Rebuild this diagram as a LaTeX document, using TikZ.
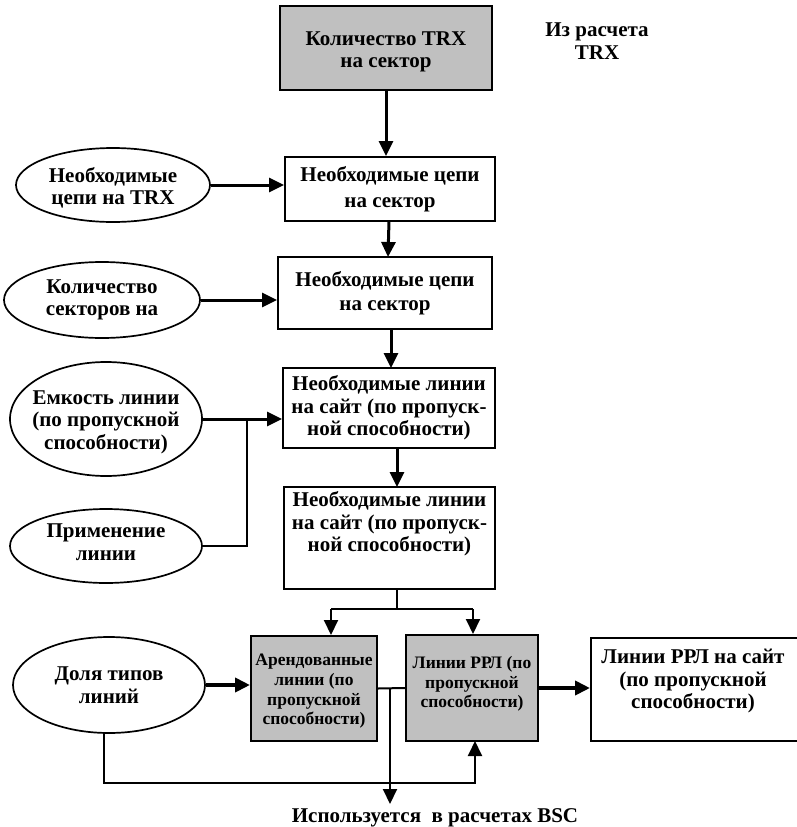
\documentclass[tikz,border=0pt]{standalone}
\usepackage{fontspec}
\setmainfont{Liberation Serif}
\usetikzlibrary{arrows.meta,shapes.geometric}
\definecolor{boxgray}{RGB}{192,192,192}
\tikzset{
  lbl/.style={font=\fontsize{21}{22.5}\selectfont\bfseries, align=center, inner sep=0pt},
  small/.style={font=\fontsize{17.5}{19.7}\selectfont\bfseries, align=center, inner sep=0pt},
  box/.style={draw, line width=2pt, inner sep=0pt},
  graybox/.style={box, fill=boxgray},
  oval/.style={ellipse, draw, line width=1.7pt, lbl, inner sep=-16pt},
  tip/.style={-{Triangle[length=15pt,width=14pt]}},
  flow/.style={line width=3pt, tip},
  thinflow/.style={line width=2pt, tip},
  link/.style={line width=2pt},
}
\begin{document}
\begin{tikzpicture}[x=1pt,y=-1pt]
\useasboundingbox (0,0) rectangle (797,827);

% main column of calculation steps
\node[graybox, minimum width=212, minimum height=84] (trx) at (386,48) {};
\node[lbl] (trxtxt) at (386,52) {Количество TRX\\на сектор};
\node[lbl] (src) at (597,41) {Из расчета\\TRX};
\node[box, lbl, minimum width=210, minimum height=64, font=\fontsize{21}{26}\selectfont\bfseries] (c1) at (390,189) {Необходимые цепи\\на сектор};
\node[box, lbl, minimum width=214, minimum height=72, font=\fontsize{21}{23.5}\selectfont\bfseries] (c2) at (385,293) {Необходимые цепи\\на сектор};
\node[box, lbl, minimum width=212, minimum height=80] (l1) at (389,408) {Необходимые линии\\на сайт (по пропуск-\\ной способности)};
\node[box, minimum width=211, minimum height=102] (l2) at (389.5,538) {};
\node[lbl] (l2txt) at (389.5,524) {Необходимые линии\\на сайт (по пропуск-\\ной способности)};

% input parameters
\node[oval, minimum width=194, minimum height=74] (e1) at (113,185) {};
\node[lbl] (e1txt) at (113,188) {Необходимые\\цепи на TRX};
\node[oval, minimum width=196, minimum height=76] (e2) at (102,300) {Количество\\секторов на};
\node[oval, minimum width=192, minimum height=114] (e3) at (106,419) {};
\node[lbl] (e3txt) at (106,422) {Емкость линии\\(по пропускной\\способности)};
\node[oval, minimum width=192, minimum height=74] (e4) at (106,546) {};
\node[lbl] (e4txt) at (106,542) {Применение\\линии};
\node[oval, minimum width=192, minimum height=96] (e5) at (109,685) {Доля типов\\линий};

% split by line type
\node[graybox, minimum width=126, minimum height=105] (lease) at (314,688.5) {};
\node[small] (leasetxt) at (314,691.5) {Арендованные\\линии (по\\пропускной\\способности)};
\node[graybox, minimum width=132, minimum height=106] (mw) at (472,688) {};
\node[small] (mwtxt) at (472,684) {Линии РРЛ (по\\пропускной\\способности)};
\node[box, minimum width=229, minimum height=103] (mwsite) at (705.5,689.5) {};
\node[lbl] (mwsitetxt) at (693,681) {Линии РРЛ на сайт\\(по пропускной\\способности)};
\node[lbl] (bsc) at (435,818) {Используется\ \ в расчетах BSC};

% connectors
\draw[flow] (trx.south) -- (trx.south |- c1.north);
\draw[flow] (e1.east) -- (e1.east -| c1.west);
\draw[flow] (389,221) -- (388,257);
\draw[flow] (e2.east) -- (e2.east -| c2.west);
\draw[flow] (391,329) -- (391,368);
\draw[flow] (e3.east) -- (e3.east -| l1.west);
\coordinate (j1) at (247,419);
\draw[link] (e4.east) -| (j1);
\draw[flow] (397,448) -- (397,487);

\coordinate (s1) at (397,609);
\coordinate (sl) at (331,609);
\coordinate (sr) at (473,609);
\draw[link] (s1 |- l2.south) -- (s1);
\draw[link] (sl) -- (sr);
\draw[thinflow] (sl) -- (sl |- lease.north);
\draw[thinflow] (sr) -- (sr |- mw.north);

\draw[flow, line width=4pt] (e5.east) -- (e5.east -| lease.west);
\draw[link] (lease.east) -- (mw.west);
\coordinate (j2) at (390,688.5);
\draw[thinflow] (j2) -- (390,804);
\draw[flow, line width=4pt] (mw.east) -- (mwsite.west |- mw.east);
\coordinate (b1) at (104,783);
\draw[thinflow] (e5.south -| b1) -- (b1) -| (475,741);
\end{tikzpicture}
\end{document}
